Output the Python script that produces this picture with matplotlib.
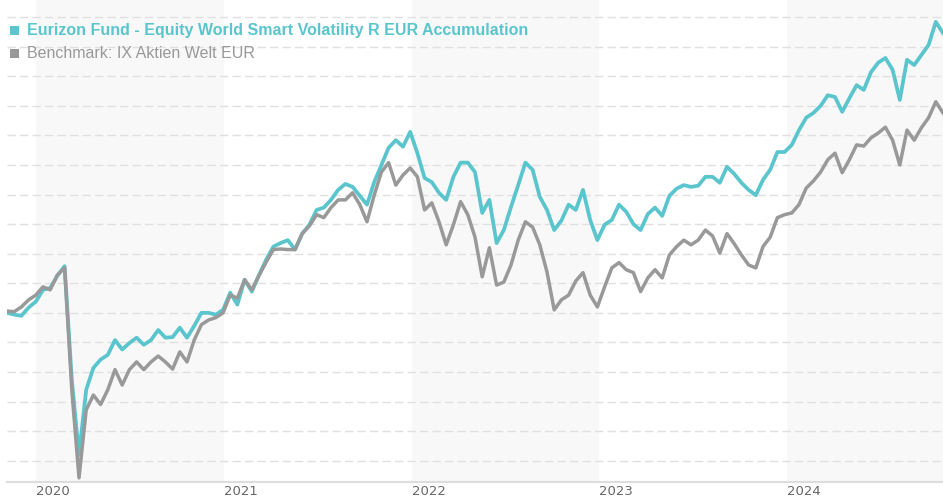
import pandas as pd
import matplotlib.pyplot as plt
from matplotlib.patches import Rectangle

# Two-weekly readings (index, start = 100)
start_date = "2019-11-06"

fund = [100.0, 99.7, 99.5, 100.9, 101.9, 103.9, 104.2, 106.3, 107.9, 88.7,
        76.0, 87.0, 90.7, 92.1, 92.9, 95.4, 93.8, 94.9, 95.8, 94.6,
        95.4, 97.1, 95.8, 95.9, 97.5, 95.8, 97.8, 100.0, 100.0, 99.7,
        100.5, 103.4, 101.4, 105.6, 103.6, 106.4, 109.0, 111.2, 111.8, 112.3,
        110.7, 113.4, 114.9, 117.4, 117.8, 119.1, 120.8, 121.8, 121.3, 119.8,
        118.3, 122.1, 125.0, 127.9, 129.2, 128.1, 130.6, 127.0, 122.8, 122.1,
        120.3, 119.1, 123.0, 125.4, 125.4, 123.8, 116.9, 119.1, 111.8, 114.0,
        117.9, 121.6, 125.4, 124.2, 119.6, 117.4, 114.0, 115.6, 118.3, 117.4,
        120.8, 115.7, 112.3, 114.9, 115.7, 118.3, 117.1, 115.0, 114.0, 116.7,
        117.8, 116.4, 119.8, 121.0, 121.6, 121.3, 121.5, 123.0, 123.0, 122.0,
        124.7, 123.5, 122.0, 120.8, 119.9, 122.5, 124.2, 127.2, 127.2, 128.4,
        130.9, 133.0, 133.8, 135.0, 136.8, 136.5, 134.0, 136.3, 138.5, 137.7,
        140.7, 142.3, 143.1, 141.1, 136.0, 142.8, 141.9, 143.6, 145.3, 149.2,
        147.3]

bench = [100.3, 100.2, 101.0, 102.2, 103.0, 104.4, 103.9, 106.4, 107.6, 87.0,
         72.1, 83.6, 86.1, 84.5, 87.0, 90.4, 87.8, 90.4, 91.7, 90.4,
         91.7, 92.7, 91.7, 90.5, 93.4, 91.7, 95.4, 98.0, 98.8, 99.2,
         100.0, 103.0, 102.5, 105.6, 103.9, 106.3, 108.6, 110.7, 110.8, 110.7,
         110.7, 113.4, 114.7, 116.6, 116.1, 117.8, 119.1, 119.1, 120.3, 118.3,
         115.4, 119.9, 123.8, 125.4, 121.6, 123.3, 124.5, 123.0, 117.4, 118.6,
         115.4, 111.5, 114.9, 118.8, 116.6, 112.8, 106.1, 111.0, 104.7, 105.2,
         108.1, 112.3, 115.4, 114.5, 111.5, 106.9, 100.5, 102.2, 103.0, 105.4,
         106.8, 103.0, 101.0, 104.4, 107.6, 108.5, 107.3, 106.8, 103.6, 105.9,
         107.3, 105.9, 109.8, 111.2, 112.3, 111.5, 112.3, 114.0, 113.0, 110.1,
         113.4, 111.7, 109.8, 108.1, 107.6, 111.2, 112.8, 116.1, 116.6, 116.9,
         118.3, 121.1, 122.3, 123.8, 125.9, 127.0, 123.7, 125.9, 128.4, 128.2,
         129.6, 130.4, 131.4, 129.2, 125.0, 130.9, 129.2, 131.3, 133.0, 135.7,
         133.8]

fund_label = "Eurizon Fund - Equity World Smart Volatility R EUR Accumulation"
bench_label = "Benchmark: IX Aktien Welt EUR"
years = [2020, 2021, 2022, 2023, 2024]

teal = "#5BC5CD"
grey = "#999999"

dates = pd.date_range(start_date, periods=len(fund), freq="14D")

fig = plt.figure(figsize=(9.43, 5), dpi=100)
ax = fig.add_axes([7 / 943, 18 / 500, 936 / 943, 482 / 500])

# shaded year bands
for y in years[::2]:
    ax.axvspan(pd.Timestamp(f"{y}-01-01"), pd.Timestamp(f"{y + 1}-01-01"),
               color="#F8F8F8", lw=0, zorder=0)

# dashed grid
for g in range(75, 155, 5):
    ax.axhline(g, color="#E0E0E0", lw=1, ls=(0, (6, 3)), zorder=1)

ax.plot(dates, fund, color=teal, lw=2.7, zorder=3)
ax.plot(dates, bench, color=grey, lw=2.5, zorder=4)

ax.set_xlim(dates[0], dates[-1])
ax.set_ylim(71.4, 152.9)

for s in ["top", "right", "left"]:
    ax.spines[s].set_visible(False)
ax.spines["bottom"].set_color("#DDDDDD")
ax.spines["bottom"].set_linewidth(1.5)
ax.set_yticks([])
ax.set_xticks([pd.Timestamp(f"{y}-01-01") for y in years])
ax.set_xticklabels([str(y) for y in years], ha="left")
ax.tick_params(axis="x", length=0, pad=2, labelsize=9.5, labelcolor="#666666")

# legend
fig.add_artist(Rectangle((10 / 943, 1 - 35 / 500), 9 / 943, 9 / 500,
                         transform=fig.transFigure, color=teal, lw=0))
fig.add_artist(Rectangle((10 / 943, 1 - 58 / 500), 9 / 943, 9 / 500,
                         transform=fig.transFigure, color=grey, lw=0))
fig.text(27 / 943, 1 - 30 / 500, fund_label, color=teal, fontsize=11.5,
         fontweight="bold", family="Liberation Sans", va="center")
fig.text(27 / 943, 1 - 53 / 500, bench_label, color=grey, fontsize=11.5,
         family="Liberation Sans", va="center")

fig.savefig("out.png", dpi=100, facecolor="white")
